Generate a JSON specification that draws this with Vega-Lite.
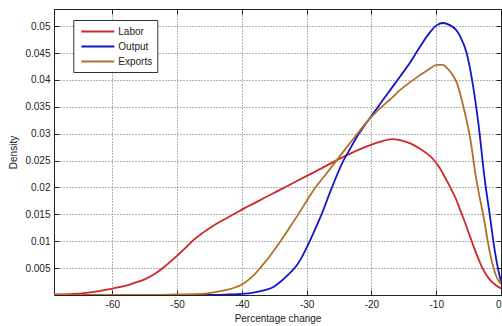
{
  "$schema": "https://vega.github.io/schema/vega-lite/v6.json",
  "width": 447,
  "height": 286,
  "autosize": {"type": "none"},
  "padding": {"left": 54, "top": 9, "right": 1, "bottom": 31},
  "background": "white",
  "config": {
    "font": "Liberation Sans",
    "view": {"stroke": "#222", "strokeWidth": 1},
    "axis": {
      "domainColor": "#222",
      "tickColor": "#222",
      "labelColor": "#222",
      "titleColor": "#222",
      "labelFont": "Liberation Sans",
      "titleFont": "Liberation Sans",
      "labelFontSize": 10,
      "titleFontSize": 10,
      "titleFontWeight": "normal",
      "gridColor": "#666",
      "gridDash": [1, 2],
      "gridWidth": 1,
      "gridOpacity": 1
    }
  },
  "data": {
    "values": [
      {"series": "Labor", "pct": -69, "density": 0.0001},
      {"series": "Labor", "pct": -66, "density": 0.0002},
      {"series": "Labor", "pct": -64, "density": 0.0004},
      {"series": "Labor", "pct": -62, "density": 0.0007},
      {"series": "Labor", "pct": -60, "density": 0.0012},
      {"series": "Labor", "pct": -58, "density": 0.0017},
      {"series": "Labor", "pct": -56.7, "density": 0.0022},
      {"series": "Labor", "pct": -55, "density": 0.0029},
      {"series": "Labor", "pct": -53.6, "density": 0.0038},
      {"series": "Labor", "pct": -52, "density": 0.0052},
      {"series": "Labor", "pct": -50, "density": 0.0073},
      {"series": "Labor", "pct": -48.5, "density": 0.009},
      {"series": "Labor", "pct": -47.4, "density": 0.0103},
      {"series": "Labor", "pct": -46, "density": 0.0116},
      {"series": "Labor", "pct": -44.4, "density": 0.0129},
      {"series": "Labor", "pct": -42.5, "density": 0.0142},
      {"series": "Labor", "pct": -41, "density": 0.0152},
      {"series": "Labor", "pct": -39.5, "density": 0.0162},
      {"series": "Labor", "pct": -38.2, "density": 0.017},
      {"series": "Labor", "pct": -36.5, "density": 0.0181},
      {"series": "Labor", "pct": -34.2, "density": 0.0195},
      {"series": "Labor", "pct": -32.6, "density": 0.0205},
      {"series": "Labor", "pct": -29.9, "density": 0.0222},
      {"series": "Labor", "pct": -27.5, "density": 0.0237},
      {"series": "Labor", "pct": -25.5, "density": 0.025},
      {"series": "Labor", "pct": -23.1, "density": 0.0264},
      {"series": "Labor", "pct": -21, "density": 0.0275},
      {"series": "Labor", "pct": -18.7, "density": 0.0285},
      {"series": "Labor", "pct": -16.8, "density": 0.029},
      {"series": "Labor", "pct": -15.6, "density": 0.0288},
      {"series": "Labor", "pct": -14, "density": 0.0282},
      {"series": "Labor", "pct": -12.5, "density": 0.0272},
      {"series": "Labor", "pct": -11.3, "density": 0.0262},
      {"series": "Labor", "pct": -10.5, "density": 0.0253},
      {"series": "Labor", "pct": -9.5, "density": 0.0237},
      {"series": "Labor", "pct": -8.7, "density": 0.022},
      {"series": "Labor", "pct": -7.9, "density": 0.0202},
      {"series": "Labor", "pct": -7, "density": 0.018},
      {"series": "Labor", "pct": -6.3, "density": 0.0158},
      {"series": "Labor", "pct": -5.5, "density": 0.0133},
      {"series": "Labor", "pct": -4.8, "density": 0.0109},
      {"series": "Labor", "pct": -4, "density": 0.0083},
      {"series": "Labor", "pct": -3.2, "density": 0.0059},
      {"series": "Labor", "pct": -2.4, "density": 0.004},
      {"series": "Labor", "pct": -1.7, "density": 0.0028},
      {"series": "Labor", "pct": -0.8, "density": 0.0018},
      {"series": "Labor", "pct": 0, "density": 0.0012},

      {"series": "Output", "pct": -69, "density": 0},
      {"series": "Output", "pct": -50, "density": 0},
      {"series": "Output", "pct": -45, "density": 0},
      {"series": "Output", "pct": -42, "density": 0.0001},
      {"series": "Output", "pct": -40, "density": 0.0002},
      {"series": "Output", "pct": -38, "density": 0.0005},
      {"series": "Output", "pct": -36.2, "density": 0.001},
      {"series": "Output", "pct": -35, "density": 0.0016},
      {"series": "Output", "pct": -34, "density": 0.0025},
      {"series": "Output", "pct": -33, "density": 0.0036},
      {"series": "Output", "pct": -31.6, "density": 0.0054},
      {"series": "Output", "pct": -30.8, "density": 0.0069},
      {"series": "Output", "pct": -29.8, "density": 0.0093},
      {"series": "Output", "pct": -28.7, "density": 0.0122},
      {"series": "Output", "pct": -27.7, "density": 0.015},
      {"series": "Output", "pct": -26.2, "density": 0.0197},
      {"series": "Output", "pct": -24.4, "density": 0.0248},
      {"series": "Output", "pct": -23.1, "density": 0.0276},
      {"series": "Output", "pct": -22.1, "density": 0.0297},
      {"series": "Output", "pct": -20.9, "density": 0.0318},
      {"series": "Output", "pct": -19.7, "density": 0.0338},
      {"series": "Output", "pct": -18.7, "density": 0.0355},
      {"series": "Output", "pct": -17, "density": 0.0383},
      {"series": "Output", "pct": -15.6, "density": 0.0406},
      {"series": "Output", "pct": -14, "density": 0.0433},
      {"series": "Output", "pct": -12.5, "density": 0.0462},
      {"series": "Output", "pct": -11, "density": 0.0488},
      {"series": "Output", "pct": -9.9, "density": 0.0502},
      {"series": "Output", "pct": -9, "density": 0.0506},
      {"series": "Output", "pct": -7.9, "density": 0.0502},
      {"series": "Output", "pct": -7, "density": 0.0494},
      {"series": "Output", "pct": -6.3, "density": 0.0481},
      {"series": "Output", "pct": -5.3, "density": 0.045},
      {"series": "Output", "pct": -4.3, "density": 0.0388},
      {"series": "Output", "pct": -3.5, "density": 0.032},
      {"series": "Output", "pct": -2.5, "density": 0.0214},
      {"series": "Output", "pct": -1.7, "density": 0.0146},
      {"series": "Output", "pct": -0.9, "density": 0.0078},
      {"series": "Output", "pct": -0.3, "density": 0.004},
      {"series": "Output", "pct": 0, "density": 0.0025},

      {"series": "Exports", "pct": -69, "density": 0},
      {"series": "Exports", "pct": -56, "density": 0},
      {"series": "Exports", "pct": -50, "density": 0.0001},
      {"series": "Exports", "pct": -46, "density": 0.0002},
      {"series": "Exports", "pct": -44.4, "density": 0.0005},
      {"series": "Exports", "pct": -42.5, "density": 0.0009},
      {"series": "Exports", "pct": -41.3, "density": 0.0013},
      {"series": "Exports", "pct": -39.8, "density": 0.0021},
      {"series": "Exports", "pct": -38.8, "density": 0.003},
      {"series": "Exports", "pct": -38, "density": 0.0039},
      {"series": "Exports", "pct": -37.2, "density": 0.005},
      {"series": "Exports", "pct": -35.7, "density": 0.0072},
      {"series": "Exports", "pct": -34.2, "density": 0.0097},
      {"series": "Exports", "pct": -32.6, "density": 0.0126},
      {"series": "Exports", "pct": -31.3, "density": 0.015},
      {"series": "Exports", "pct": -30, "density": 0.0175},
      {"series": "Exports", "pct": -28.7, "density": 0.0199},
      {"series": "Exports", "pct": -27, "density": 0.0225},
      {"series": "Exports", "pct": -25.4, "density": 0.025},
      {"series": "Exports", "pct": -23.8, "density": 0.0275},
      {"series": "Exports", "pct": -22.3, "density": 0.0298},
      {"series": "Exports", "pct": -21, "density": 0.0318},
      {"series": "Exports", "pct": -19.7, "density": 0.0335},
      {"series": "Exports", "pct": -18.7, "density": 0.0347},
      {"series": "Exports", "pct": -17, "density": 0.0365},
      {"series": "Exports", "pct": -15.6, "density": 0.0381},
      {"series": "Exports", "pct": -14, "density": 0.0396},
      {"series": "Exports", "pct": -12.5, "density": 0.0409},
      {"series": "Exports", "pct": -11, "density": 0.0421},
      {"series": "Exports", "pct": -9.9, "density": 0.0428},
      {"series": "Exports", "pct": -9, "density": 0.0428},
      {"series": "Exports", "pct": -8.4, "density": 0.0423},
      {"series": "Exports", "pct": -7.5, "density": 0.041},
      {"series": "Exports", "pct": -6.8, "density": 0.0394},
      {"series": "Exports", "pct": -5.8, "density": 0.035},
      {"series": "Exports", "pct": -4.8, "density": 0.0295},
      {"series": "Exports", "pct": -3.8, "density": 0.0214},
      {"series": "Exports", "pct": -2.7, "density": 0.0146},
      {"series": "Exports", "pct": -1.7, "density": 0.0078},
      {"series": "Exports", "pct": -0.7, "density": 0.0034},
      {"series": "Exports", "pct": 0, "density": 0.002}
    ]
  },
  "layer": [
    {
      "mark": {"type": "line", "interpolate": "monotone", "strokeWidth": 1.8, "clip": true},
      "encoding": {
        "x": {
          "field": "pct", "type": "quantitative",
          "scale": {"domain": [-69, 0], "nice": false, "zero": false},
          "axis": {
            "orient": "bottom",
            "values": [-60, -50, -40, -30, -20, -10, 0],
            "labelExpr": "'' + datum.value",
            "tickSize": -5,
            "labelPadding": 9,
            "title": "Percentage change",
            "titlePadding": 4,
            "grid": true
          }
        },
        "y": {
          "field": "density", "type": "quantitative",
          "scale": {"domain": [0, 0.0532], "nice": false},
          "axis": {
            "orient": "left",
            "values": [0.005, 0.01, 0.015, 0.02, 0.025, 0.03, 0.035, 0.04, 0.045, 0.05],
            "format": ".3~f",
            "tickSize": -5,
            "labelPadding": 9,
            "title": "Density",
            "titlePadding": 6,
            "grid": true
          }
        },
        "color": {
          "field": "series", "type": "nominal",
          "scale": {"domain": ["Labor", "Output", "Exports"], "range": ["#d02828", "#1515c8", "#b0702a"]},
          "legend": {
            "orient": "none",
            "legendX": 19.3,
            "legendY": 11,
            "title": null,
            "symbolType": "M-1,0H5",
            "symbolSize": 121,
            "symbolStrokeWidth": 2,
            "symbolOffset": 2,
            "labelOffset": 25,
            "padding": 5,
            "rowPadding": 3,
            "strokeColor": "#333",
            "fillColor": "white",
            "labelFontSize": 10,
            "labelFont": "Liberation Sans",
            "labelColor": "#222"
          }
        }
      }
    },
    {
      "mark": {"type": "line", "opacity": 0},
      "encoding": {
        "detail": {"field": "series", "type": "nominal"},
        "x": {
          "field": "pct", "type": "quantitative",
          "axis": {
            "orient": "top",
            "values": [-60, -50, -40, -30, -20, -10, 0],
            "labels": false,
            "tickSize": -5,
            "title": null,
            "grid": false
          }
        },
        "y": {
          "field": "density", "type": "quantitative",
          "axis": {
            "orient": "right",
            "values": [0.005, 0.01, 0.015, 0.02, 0.025, 0.03, 0.035, 0.04, 0.045, 0.05],
            "labels": false,
            "tickSize": -5,
            "title": null,
            "grid": false
          }
        }
      }
    }
  ],
  "resolve": {"axis": {"x": "independent", "y": "independent"}}
}
